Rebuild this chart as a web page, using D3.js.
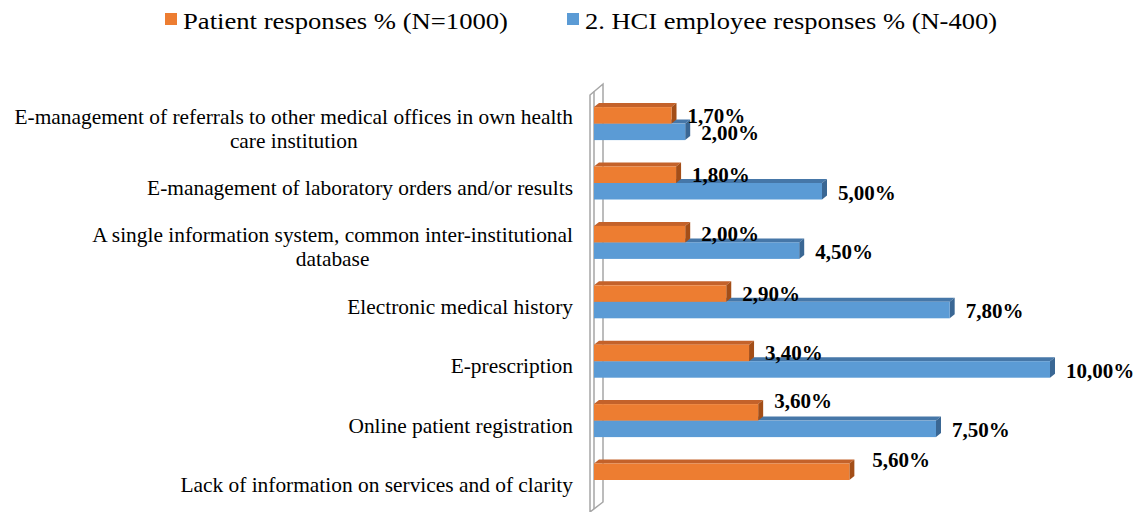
<!DOCTYPE html>
<html><head><meta charset="utf-8">
<script src="https://cdn.jsdelivr.net/npm/d3@7"></script>
<style>
body{margin:0;background:#fff}
svg{display:block}
svg text{font-family:"Liberation Serif","Times New Roman",Times,serif;}
</style>
</head><body><svg id="c" width="1140" height="512"></svg>
<script>
const categories = [
  "E-management of referrals to other medical offices in own health\ncare institution",
  "E-management of laboratory orders and/or results",
  "A single information system, common inter-institutional\ndatabase",
  "Electronic medical history",
  "E-prescription",
  "Online patient registration",
  "Lack of information on services and of clarity"
];
const seriesNames = ["Patient responses % (N=1000)", "2. HCI employee responses % (N-400)"];
const patientValues = [1.7, 1.8, 2.0, 2.9, 3.4, 3.6, 5.6];
const employeeValues = [2.0, 5.0, 4.5, 7.8, 10.0, 7.5, null];
const xDomain = [0, 10];

const colors = [
  {front: "#ED7D31", top: "#C4622A", side: "#A34E18"},
  {front: "#5B9BD5", top: "#4677A8", side: "#3A6794"}
];
const series = [patientValues, employeeValues];
const dx = 5, dy = 4;

const svg = d3.select("#c");
const x = d3.scaleLinear().domain(xDomain).range([594, 1050]);
const y = d3.scaleBand().domain(d3.range(categories.length))
  .range([93.9, 509.7]).paddingInner(0.4444).paddingOuter(0.2222);
const ys = d3.scaleBand().domain([0, 1]).range([0, y.bandwidth()]);
const fmt = v => d3.format(".2f")(v).replace(".", ",") + "%";

// Legend
const legend = svg.append("g");
const legendPos = [{sq: 165, tx: 183, w: 325}, {sq: 567, tx: 585, w: 412}];
seriesNames.forEach((name, k) => {
  legend.append("rect").attr("x", legendPos[k].sq).attr("y", 13).attr("width", 12).attr("height", 12)
    .attr("fill", colors[k].front);
  legend.append("text").attr("x", legendPos[k].tx).attr("y", 28.5)
    .attr("font-size", 24).attr("fill", "#000")
    .attr("textLength", legendPos[k].w).attr("lengthAdjust", "spacingAndGlyphs")
    .text(name);
});

// Wall
const wall = svg.append("g").attr("fill", "#fff").attr("stroke", "#A6A6A6").attr("stroke-width", 1.5);
wall.append("path").attr("d", "M590,95 L603,84 L603,502 L590,512 Z");
wall.append("line").attr("x1", 594).attr("y1", 91.5).attr("x2", 594).attr("y2", 509);

// Bars
function bar3d(g, x0, x1, yt, h, c) {
  g.append("path").attr("fill", c.top)
    .attr("d", `M${x0},${yt} L${x0 + dx},${yt - dy} L${x1 + dx},${yt - dy} L${x1},${yt} Z`);
  g.append("path").attr("fill", c.side)
    .attr("d", `M${x1},${yt} L${x1 + dx},${yt - dy} L${x1 + dx},${yt + h - dy} L${x1},${yt + h} Z`);
  g.append("rect").attr("x", x0).attr("y", yt).attr("width", x1 - x0).attr("height", h).attr("fill", c.front);
}
const bars = svg.append("g");
const labels = svg.append("g").attr("font-size", 21)
  .attr("font-weight", "bold").attr("fill", "#000");
const labelNudge = {5: {0: -12}};
categories.forEach((cat, i) => {
  [1, 0].forEach(k => {
    const v = series[k][i];
    if (v == null) return;
    bar3d(bars, x(0), x(v), y(i) + ys(k), ys.bandwidth(), colors[k]);
  });
});
categories.forEach((cat, i) => {
  [0, 1].forEach(k => {
    const v = series[k][i];
    if (v == null) return;
    const yt = y(i) + ys(k);
    const h = ys.bandwidth();
    const other = series[1 - k][i];
    let lx = x(v) + dx + 11;
    let ly = yt + h - (k === 0 ? 1 : 0);
    if (other == null) { lx += 7; ly = yt + 4; }
    if (labelNudge[i] && labelNudge[i][k]) ly += labelNudge[i][k];
    labels.append("text").attr("x", lx).attr("y", ly).text(fmt(v));
  });
});

// Category labels
const catG = svg.append("g").attr("font-size", 21.4).attr("fill", "#000");
categories.forEach((cat, i) => {
  const lines = cat.split("\n");
  const yc = y(i) + y.bandwidth() / 2 + 5;
  const t = catG.append("text");
  const spans = lines.map((ln, j) => t.append("tspan").attr("y", yc - (lines.length - 1) * 12 + j * 24 + 7).text(ln));
  if (lines.length === 1) {
    t.attr("text-anchor", "end");
    spans[0].attr("x", 573);
  } else {
    const maxW = d3.max(spans, s => s.node().getComputedTextLength());
    t.attr("text-anchor", "middle");
    spans.forEach(s => s.attr("x", 573 - maxW / 2));
  }
});
</script>
</body></html>
